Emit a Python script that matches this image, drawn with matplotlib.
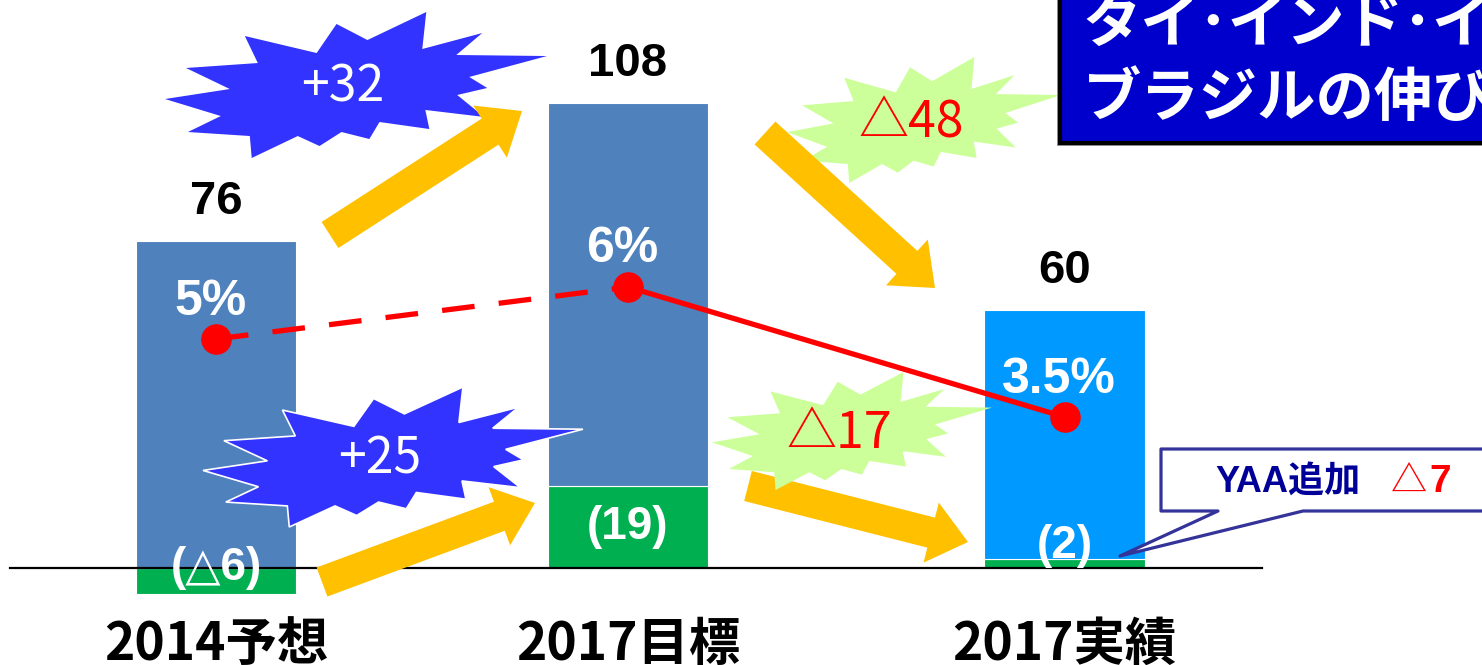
import matplotlib
matplotlib.use('Agg')
import matplotlib.pyplot as plt
from matplotlib.patches import Polygon, FancyArrow, Rectangle
from matplotlib.transforms import Affine2D

# ---------------- data ----------------
categories = ['2014予想', '2017目標', '2017実績']
base_values = [-6, 19, 2]          # green segment
upper_values = [76, 89, 58]        # blue segment
totals = [76, 108, 60]
base_labels = ['(△6)', '(19)', '(2)']
margin_pct = [5, 6, 3.5]
margin_labels = ['5%', '6%', '3.5%']
change_labels = ['+32', '+25', '△48', '△17']
callout_text = 'YAA追加'
callout_value = '△7'
title_lines = ['タイ･インド･インドネシア･', 'ブラジルの伸び悩み']

# ---------------- layout / style ----------------
W, H = 1482, 665
plt.rcParams['font.family'] = ['Liberation Sans', 'Noto Sans CJK JP', 'DejaVu Sans']
CJK = ['Noto Sans CJK JP', 'DejaVu Sans']

fig = plt.figure(figsize=(W / 100, H / 100), dpi=100)
ax = fig.add_axes([0, 0, 1, 1])
ax2 = ax.twinx()
for a in (ax, ax2):
    a.axis('off')

xpos = [0, 1, 2.06]
ax.set_xlim(-0.524, 3.073)
ax2.set_xlim(-0.524, 3.073)
ax.set_ylim(-22.53, 131.94)
ax2.set_ylim(-1.269, 11.519)

# pixel transform (y down) for decorations
T = Affine2D().scale(1 / W, -1 / H).translate(0, 1) + fig.transFigure

blue_colors = ['#4F81BD', '#4F81BD', '#0099FF']
green = '#00B050'
bw = 0.39
bottoms = [max(b, 0) for b in base_values]
ax.bar(xpos, base_values, width=bw, color=green, edgecolor='white', linewidth=0.8, zorder=2)
ax.bar(xpos, upper_values, width=bw, bottom=bottoms, color=blue_colors,
       edgecolor='white', linewidth=0.8, zorder=2)
ax.axhline(0, xmin=10 / W, xmax=1262 / W, color='black', lw=1.6, zorder=3)

# totals
for x, t in zip(xpos, totals):
    ax.annotate(str(t), (x, t), xytext=(0, 28), textcoords='offset points',
                ha='center', va='center', fontsize=34, fontweight='bold', color='black', zorder=4)

# base labels
label_dy = [0, 0, 13]
for x, b, lab, dy in zip(xpos, base_values, base_labels, label_dy):
    ax.annotate(lab, (x, max(b, 0) / 2), xytext=(0, dy), textcoords='offset points',
                ha='center', va='center', fontsize=33, fontweight='bold', color='white',
                family=['Liberation Sans', 'DejaVu Sans'], zorder=4)

# x labels
for x, c in zip(xpos, categories):
    ax.annotate(c, (x, 0), xytext=(0, -55), textcoords='offset points', ha='center', va='center',
                fontsize=37, fontweight='bold', family=CJK, color='black', zorder=4)

# ---------------- decorations ----------------
star_tpl = [(-0.582, -0.671), (-0.514, -0.301), (-0.890, -0.233), (-0.661, 0.055), (-1.0, 0.192),
            (-0.708, 0.425), (-0.880, 0.644), (-0.556, 0.699), (-0.546, 1.0), (-0.305, 0.699),
            (-0.191, 0.836), (-0.076, 0.644), (0.070, 0.740), (0.123, 0.507), (0.384, 0.603),
            (0.363, 0.342), (0.671, 0.438), (0.530, 0.137), (0.687, 0.041), (0.593, -0.110),
            (1.0, -0.397), (0.525, -0.411), (0.661, -0.712), (0.347, -0.493), (0.368, -1.0),
            (0.060, -0.616), (-0.102, -0.836), (-0.206, -0.438)]


def star(cx, cy, hw, hh, fc, ec='none', lw=0, z=3):
    pts = [(cx + u * hw, cy + v * hh) for u, v in star_tpl]
    ax2.add_patch(Polygon(pts, closed=True, facecolor=fc, edgecolor=ec, linewidth=lw,
                          transform=T, zorder=z))


def arrow(x0, y0, x1, y1, z=3):
    ax2.add_patch(FancyArrow(x0, y0, x1 - x0, y1 - y0, width=31, head_width=62, head_length=38,
                             length_includes_head=True, color='#FFC000', linewidth=0,
                             transform=T, zorder=z))


stars = [(356, 85, 191, 73, '#3333FF', 'none', 0, 2.0),
         (393, 457, 190, 70, '#3333FF', 'white', 1.2, 3.5),
         (924, 120, 137, 63, '#CCFF99', 'none', 0, 2.0),
         (852, 431, 140, 59, '#CCFF99', 'none', 0, 3.5)]
text_colors = ['white', 'white', 'red', 'red']
for (cx, cy, hw, hh, fc, ec, lw, z), lab, tc in zip(stars, change_labels, text_colors):
    star(cx, cy, hw, hh, fc, ec, lw, z)
    ax2.text(cx - 13, cy + 3, lab, transform=T, ha='center', va='center', fontsize=36,
             color=tc, family=CJK, zorder=z + 0.1)

arrow(330, 235, 522, 111, z=3)
arrow(322, 582, 535, 503, z=3)
arrow(765, 133, 935, 288, z=3)
arrow(748, 486, 968, 542, z=3)

# margin line
ax2.plot(xpos[:2], margin_pct[:2], color='red', lw=3.8, dashes=(6.2, 4.6), zorder=5)
ax2.plot(xpos[1:], margin_pct[1:], color='red', lw=3.8, zorder=5)
ax2.plot(xpos, margin_pct, 'o', color='red', markersize=21, zorder=5.5)
for x, p, lab in zip(xpos, margin_pct, margin_labels):
    ax2.annotate(lab, (x, p), xytext=(-4, 27), textcoords='offset points', ha='center',
                 va='center', fontsize=36, fontweight='bold', color='white', zorder=5.2)

# title box (top right)
ax2.add_patch(Rectangle((1057, -20), 500, 166, facecolor='#999999', edgecolor='none',
                        transform=T, zorder=6))
ax2.add_patch(Rectangle((1060, -20), 500, 163, facecolor='#0000CC', edgecolor='black',
                        linewidth=3, transform=T, zorder=6.1))
for i, line in enumerate(title_lines):
    ax2.text(1083, 25 + 74 * i, line, transform=T, ha='left', va='center', fontsize=42,
             fontweight='bold', color='white', family=CJK, zorder=6.2)

# callout
call_pts = [(1161, 449), (1520, 449), (1520, 511), (1303, 511), (1120, 556), (1218, 511), (1161, 511)]
ax2.add_patch(Polygon(call_pts, closed=True, facecolor='white', edgecolor='#333399',
                      linewidth=2.3, joinstyle='round', transform=T, zorder=6))
ax2.text(1288, 482, callout_text, transform=T, ha='center', va='center', fontsize=26,
         fontweight='bold', color='#000099', family=['Liberation Sans', 'Noto Sans CJK JP'], zorder=6.2)
ax2.text(1391, 482, '△', transform=T, ha='left', va='center', fontsize=26,
         color='red', family=CJK, zorder=6.2)
ax2.text(1429, 482, callout_value[1:], transform=T, ha='left', va='center', fontsize=28,
         fontweight='bold', color='red', zorder=6.2)

fig.savefig('out.png', dpi=100)
